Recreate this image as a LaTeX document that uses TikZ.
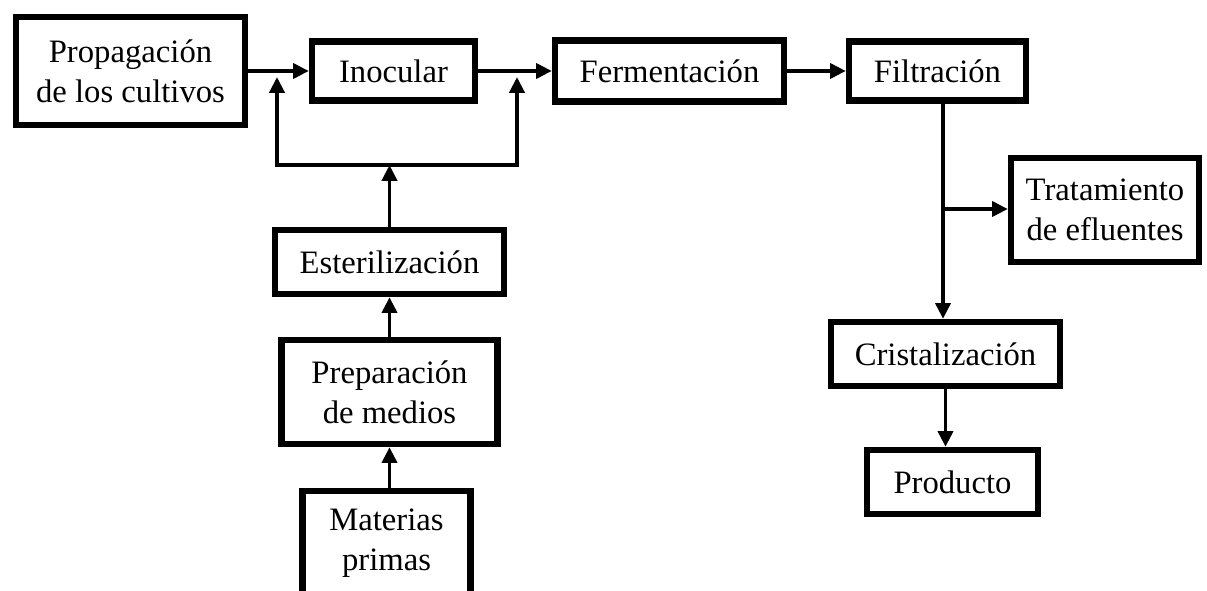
\documentclass[tikz,border=0pt]{standalone}
\usepackage{fontspec}
\setmainfont{Liberation Serif}
\usetikzlibrary{arrows.meta,calc}

\begin{document}
\begin{tikzpicture}[x=0.02cm, y=-0.02cm, >={Triangle[length=9pt, width=8.5pt]},
		caja/.style={draw, line width=3.6pt, inner sep=0pt, align=center, font=\fontsize{18.6}{22.7}\selectfont},
		flecha/.style={line width=2.2pt}]
	\useasboundingbox (0,0) rectangle (1207,591);
	% fila superior
	\node [caja, minimum width=4.58cm, minimum height=2.16cm] (prop) at (130.5,71) {Propagación\\de los cultivos};
	\node [caja, minimum width=3.26cm, minimum height=1.18cm] (inoc) at (393.5,71) {Inocular};
	\node [caja, minimum width=4.58cm, minimum height=1.22cm] (ferm) at (669.5,71) {Fermentación};
	\node [caja, minimum width=3.54cm, minimum height=1.18cm] (filt) at (937.5,71) {Filtración};
	% columna izquierda
	\node [caja, minimum width=4.58cm, minimum height=1.28cm] (est) at (389.5,262) {Esterilización};
	\node [caja, minimum width=4.32cm, minimum height=2.08cm] (prep) at (389.5,392) {Preparación\\de medios};
	\node [caja, minimum width=3.36cm, minimum height=2.08cm] (mat) at (386.5,543) {Materias\\primas};
	% columna derecha
	\node [caja, minimum width=3.76cm, minimum height=2.08cm] (trat) at (1105,210) {Tratamiento\\de efluentes};
	\node [caja, minimum width=4.58cm, minimum height=1.28cm] (crist) at (945.5,354) {Cristalización};
	\node [caja, minimum width=3.42cm, minimum height=1.28cm] (prod) at (952.5,482) {Producto};
	% puntos auxiliares
	\coordinate (fbL) at (277,165);
	\coordinate (fbR) at (517,165);
	\coordinate (fbM) at (est.north |- fbL);
	\coordinate (split) at (943,209);
	% conexiones
	\draw [flecha, ->] (prop.east) -- (inoc.west);
	\draw [flecha, ->] (inoc.east) -- (ferm.west);
	\draw [flecha, ->] (ferm.east) -- (filt.west);
	\draw [flecha, ->] (mat.north -| prep.south) -- (prep.south);
	\draw [flecha, ->] (prep.north) -- (est.south);
	\draw [flecha, ->] (est.north) -- (fbM);
	\draw [flecha, ->] (fbM) -| ($(fbL)+(0,-88)$);
	\draw [flecha, ->] (fbM) -| ($(fbR)+(0,-88)$);
	\draw [flecha] (filt.south -| split) -- (split);
	\draw [flecha, ->] (split) -- (split -| trat.west);
	\draw [flecha, ->] (split) -- (split |- crist.north);
	\draw [flecha, ->] (crist.south) -- (crist.south |- prod.north);
\end{tikzpicture}
\end{document}
